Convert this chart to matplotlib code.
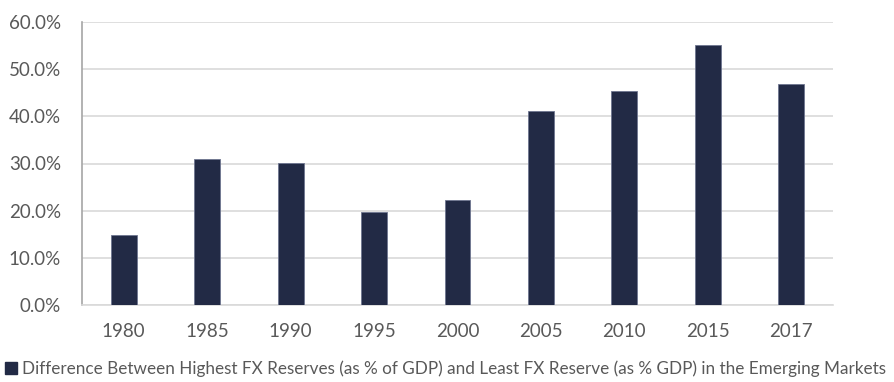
import matplotlib.pyplot as plt
from matplotlib.patches import Patch
from matplotlib.ticker import PercentFormatter

plt.rcParams['font.family'] = ['Lato', 'DejaVu Sans']

years = ['1980', '1985', '1990', '1995', '2000', '2005', '2010', '2015', '2017']
diff = [14.8, 30.9, 30.1, 19.7, 22.2, 41.1, 45.3, 55.2, 46.8]
label = 'Difference Between Highest FX Reserves (as % of GDP) and Least FX Reserve (as % GDP) in the Emerging Markets'

bar_color = '#222A45'
text_color = '#595959'

fig = plt.figure(figsize=(8.94, 3.82), dpi=100)
ax = fig.add_axes([82 / 894, 1 - 305 / 382, 751 / 894, 283 / 382])

ax.bar(range(len(years)), diff, width=0.31, color=bar_color, edgecolor='#6E7590', linewidth=0.6, zorder=3)

ax.set_xlim(-0.5, len(years) - 0.5)
ax.set_ylim(0, 60)
ax.set_yticks(range(0, 61, 10))
ax.yaxis.set_major_formatter(PercentFormatter(decimals=1))
ax.set_xticks(range(len(years)))
ax.set_xticklabels(years)

ax.grid(axis='y', color='#D9D9D9', linewidth=1.2, zorder=0)
for s in ['top', 'right']:
    ax.spines[s].set_visible(False)
ax.spines['left'].set_color('#A6A6A6')
ax.spines['left'].set_linewidth(1.2)
ax.spines['bottom'].set_color('#D9D9D9')
ax.spines['bottom'].set_linewidth(1.2)
ax.tick_params(length=0, colors=text_color, labelsize=13.5)
ax.tick_params(axis='y', pad=15)
ax.tick_params(axis='x', pad=13)

fig.legend(handles=[Patch(color=bar_color)], labels=[label], loc='lower left',
           bbox_to_anchor=(0, 0), frameon=False, fontsize=12.3,
           handlelength=0.7, handleheight=0.7, handletextpad=0.3,
           labelcolor=text_color, borderaxespad=0.1, borderpad=0.2)

fig.savefig('out.png', dpi=100)
